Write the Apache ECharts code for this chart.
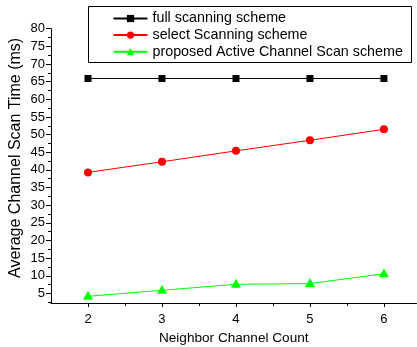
<!DOCTYPE html>
<html>
<head>
<meta charset="utf-8">
<script src="https://cdn.jsdelivr.net/npm/echarts@6/dist/echarts.min.js"></script>
<style>
html,body{margin:0;padding:0;background:#fff;}
#chart{width:417px;height:347px;}
</style>
</head>
<body>
<div id="chart"></div>
<script>
// Neighbor channel counts on the x axis
const neighborCounts = [2, 3, 4, 5, 6];
// Average channel scan time (ms) per scheme
const fullScan = [65.9, 65.9, 65.9, 65.9, 65.9];
const selectScan = [39.3, 42.3, 45.4, 48.4, 51.5];
const activeScan = [4.2, 5.9, 7.6, 7.8, 10.6];
// Tick values
const yMajorTicks = [5, 10, 15, 20, 25, 30, 35, 40, 45, 50, 55, 60, 65, 70, 75, 80];
const yMinorTicks = [2.5, 7.5, 12.5, 17.5, 22.5, 27.5, 32.5, 37.5, 42.5, 47.5, 52.5, 57.5, 62.5, 67.5, 72.5, 77.5];
const xMajorTicks = [2, 3, 4, 5, 6];
const xMinorTicks = [2.5, 3.5, 4.5, 5.5];

const seriesNames = ['full scanning scheme', 'select Scanning scheme', 'proposed Active Channel Scan scheme'];

const FONT = 'Liberation Sans, Arial, sans-serif';
const YMIN = 2.3, YMAX = 80, XMIN = 1.5, XMAX = 6.44;

const pairs = arr => neighborCounts.map((x, i) => [x, arr[i]]);

const chart = echarts.init(document.getElementById('chart'), null, {renderer: 'canvas'});

const axisLine = {show: true, lineStyle: {color: '#000', width: 1}};

chart.setOption({
  animation: false,
  backgroundColor: '#fff',
  grid: {left: 51, right: 0.5, top: 28.7, bottom: 44, outerBoundsMode: 'none', containLabel: false},
  legend: {
    orient: 'vertical',
    left: 112.5,
    top: 11.5,
    itemWidth: 34,
    itemHeight: 9,
    itemGap: 2.6,
    padding: 0,
    textStyle: {fontFamily: FONT, fontSize: 14.3, lineHeight: 14, color: '#000'},
    data: seriesNames
  },
  graphic: [{
    type: 'rect',
    shape: {x: 88.5, y: 6.5, width: 323, height: 56},
    style: {fill: 'none', stroke: '#000', lineWidth: 1},
    z: 10
  }],
  xAxis: [{
    type: 'value', min: XMIN, max: XMAX,
    axisLine: axisLine,
    axisTick: {show: true, length: 4, customValues: xMajorTicks, lineStyle: {color: '#000'}},
    axisLabel: {customValues: xMajorTicks, fontFamily: FONT, fontSize: 13, color: '#000', margin: 10},
    splitLine: {show: false},
    name: 'Neighbor Channel Count', nameLocation: 'middle', nameGap: 28.7, nameMoveOverlap: false,
    nameTextStyle: {fontFamily: FONT, fontSize: 13.6, color: '#000'}
  }, {
    type: 'value', min: XMIN, max: XMAX, position: 'bottom',
    axisLine: {show: false},
    axisTick: {show: true, length: 3, customValues: xMinorTicks, lineStyle: {color: '#000'}},
    axisLabel: {show: false},
    splitLine: {show: false}
  }],
  yAxis: [{
    type: 'value', min: YMIN, max: YMAX,
    axisLine: axisLine,
    axisTick: {show: true, length: 5, customValues: yMajorTicks, lineStyle: {color: '#000'}},
    axisLabel: {customValues: yMajorTicks, fontFamily: FONT, fontSize: 13, color: '#000', margin: 6},
    splitLine: {show: false},
    name: 'Average Channel Scan Time (ms)', nameLocation: 'middle', nameGap: 27, nameMoveOverlap: false,
    nameTextStyle: {fontFamily: FONT, fontSize: 16, color: '#000', padding: [0, 0, 0, 16]}
  }, {
    type: 'value', min: YMIN, max: YMAX, position: 'left',
    axisLine: {show: false},
    axisTick: {show: true, length: 3, customValues: yMinorTicks, lineStyle: {color: '#000'}},
    axisLabel: {show: false},
    splitLine: {show: false}
  }],
  series: [{
    name: seriesNames[0], type: 'line', data: pairs(fullScan),
    symbol: 'rect', symbolSize: 7,
    lineStyle: {color: '#000', width: 1}, itemStyle: {color: '#000'}
  }, {
    name: seriesNames[1], type: 'line', data: pairs(selectScan),
    symbol: 'circle', symbolSize: 8,
    lineStyle: {color: '#ff0000', width: 1}, itemStyle: {color: '#ff0000'}
  }, {
    name: seriesNames[2], type: 'line', data: pairs(activeScan),
    symbol: 'triangle', symbolSize: [10, 9], symbolOffset: [0, -1],
    lineStyle: {color: '#00ff00', width: 1}, itemStyle: {color: '#00ff00'}
  }]
});
</script>
</body>
</html>
